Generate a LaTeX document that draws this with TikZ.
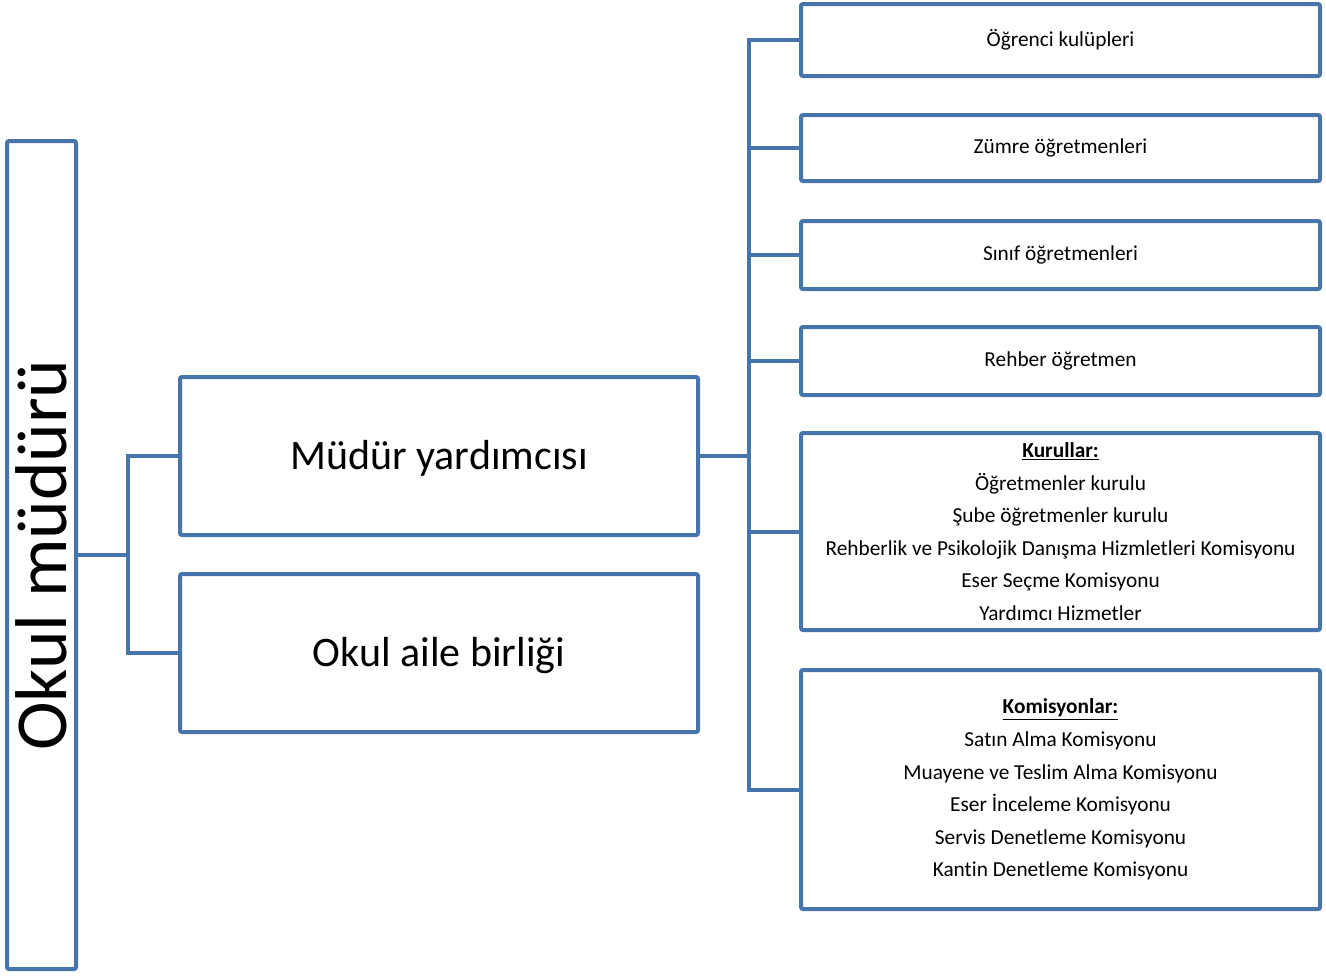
\documentclass[tikz,border=0pt]{standalone}
\usepackage{fontspec}
\setmainfont{Carlito}[Ligatures=NoCommon]
\definecolor{kutu}{RGB}{72,116,172}

\begin{document}
\begin{tikzpicture}[x=0.75pt,y=-0.75pt,
    kutubox/.style={draw=kutu,line width=3pt,rounded corners=1.5pt,align=center,inner sep=0pt},
    link/.style={draw=kutu,line width=3pt},
    small/.style={font=\fontsize{16}{24.4}\selectfont},
    big/.style={font=\fontsize{31.5}{36}\selectfont}]
    \useasboundingbox (0,0) rectangle (1326,976);
    % sol
    \node[kutubox,rotate=90,minimum width=828*0.75pt,minimum height=69*0.75pt,font=\fontsize{55}{60}\selectfont] (okul) at (41.5,555) {Okul müdürü};
    \node[kutubox,big,minimum width=518*0.75pt,minimum height=158*0.75pt,text depth=2pt] (myard) at (439,456) {Müdür yardımcısı};
    \node[kutubox,big,minimum width=518*0.75pt,minimum height=158*0.75pt,text depth=2pt] (aile) at (439,653) {Okul aile birliği};
    % sag
    \node[kutubox,small,minimum width=519*0.75pt,minimum height=72*0.75pt] (b1) at (1060.5,40) {Öğrenci kulüpleri};
    \node[kutubox,small,minimum width=519*0.75pt,minimum height=66*0.75pt] (b2) at (1060.5,148) {Zümre öğretmenleri};
    \node[kutubox,small,minimum width=519*0.75pt,minimum height=68*0.75pt] (b3) at (1060.5,255) {Sınıf öğretmenleri};
    \node[kutubox,small,minimum width=519*0.75pt,minimum height=68*0.75pt] (b4) at (1060.5,361) {Rehber öğretmen};
    \node[kutubox,small,minimum width=519*0.75pt,minimum height=197*0.75pt] (b5) at (1060.5,531.5) {\underline{\textbf{Kurullar:}}\\
        Öğretmenler kurulu\\
        Şube öğretmenler kurulu\\
        Rehberlik ve Psikolojik Danışma Hizmletleri Komisyonu\\
        Eser Seçme Komisyonu\\
        Yardımcı Hizmetler};
    \node[kutubox,small,minimum width=519*0.75pt,minimum height=239*0.75pt] (b6) at (1060.5,789.5) {\underline{\textbf{Komisyonlar:}}\\
        Satın Alma Komisyonu\\
        Muayene ve Teslim Alma Komisyonu\\
        Eser İnceleme Komisyonu\\
        Servis Denetleme Komisyonu\\
        Kantin Denetleme Komisyonu};
    % baglantilar
    \coordinate (j1) at (128,555);
    \coordinate (j2) at (749,456);
    \draw[link] (okul.south) -- (j1);
    \draw[link] (myard.west) -| (j1) |- (aile.west);
    \draw[link] (myard.east) -- (j2);
    \foreach \n in {b1,b2,b3,b4,b5,b6}
        \draw[link] (\n.west) -| (j2);
\end{tikzpicture}
\end{document}
